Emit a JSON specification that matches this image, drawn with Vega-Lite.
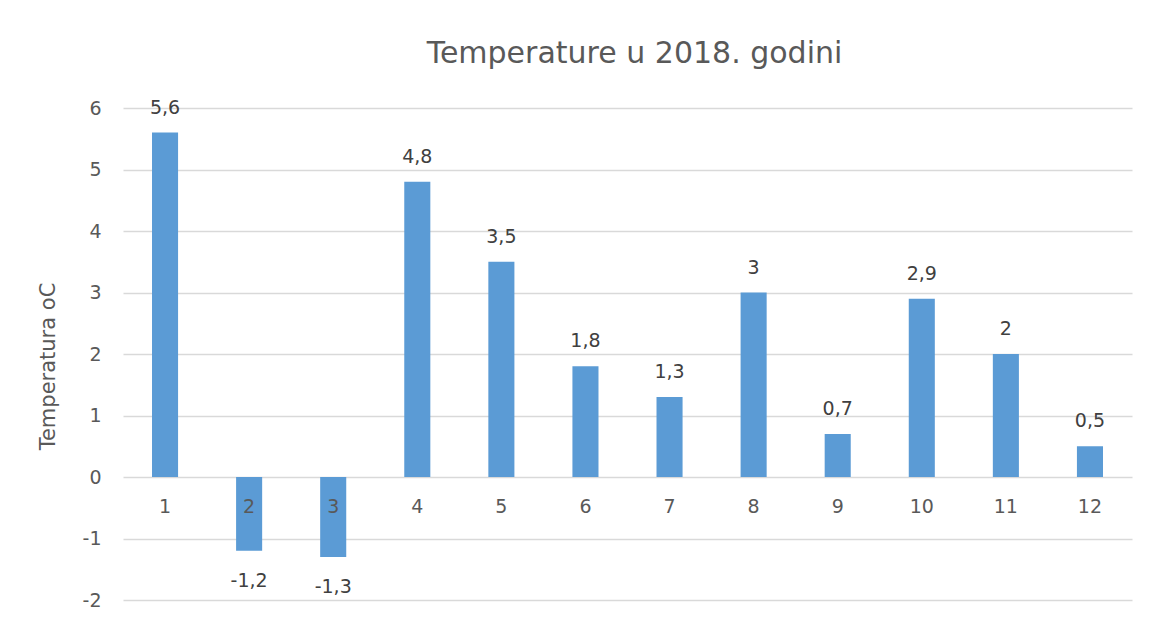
{
  "$schema": "https://vega.github.io/schema/vega-lite/v6.json",
  "width": 1009,
  "height": 492,
  "autosize": {"type": "none"},
  "padding": {"left": 123, "top": 108, "right": 21, "bottom": 26},
  "background": "white",
  "config": {
    "font": "DejaVu Sans",
    "view": {"stroke": null},
    "locale": {"number": {"decimal": ",", "thousands": ".", "grouping": [3], "currency": ["", " €"], "minus": "-"}}
  },
  "title": {
    "text": "Temperature u 2018. godini",
    "fontSize": 30,
    "fontWeight": "normal",
    "color": "#595959",
    "font": "DejaVu Sans",
    "anchor": "middle",
    "baseline": "alphabetic",
    "offset": 6,
    "dx": 7
  },
  "data": {
    "values": [
      {"mjesec": 1, "temp": 5.6},
      {"mjesec": 2, "temp": -1.2},
      {"mjesec": 3, "temp": -1.3},
      {"mjesec": 4, "temp": 4.8},
      {"mjesec": 5, "temp": 3.5},
      {"mjesec": 6, "temp": 1.8},
      {"mjesec": 7, "temp": 1.3},
      {"mjesec": 8, "temp": 3},
      {"mjesec": 9, "temp": 0.7},
      {"mjesec": 10, "temp": 2.9},
      {"mjesec": 11, "temp": 2},
      {"mjesec": 12, "temp": 0.5}
    ]
  },
  "encoding": {
    "x": {
      "field": "mjesec",
      "type": "ordinal",
      "scale": {"paddingInner": 0.69, "paddingOuter": 0.345},
      "axis": null
    }
  },
  "layer": [
    {
      "mark": {"type": "bar", "color": "#5B9BD5"},
      "encoding": {
        "y": {
          "field": "temp",
          "type": "quantitative",
          "scale": {"domain": [-2, 6], "nice": false, "zero": true},
          "axis": {
            "title": "Temperatura oC",
            "values": [-2, -1, 0, 1, 2, 3, 4, 5, 6],
            "format": "d",
            "domain": false,
            "ticks": false,
            "grid": true,
            "gridColor": "#D9D9D9",
            "gridWidth": 1.5,
            "labelFontSize": 19,
            "labelColor": "#595959",
            "labelPadding": 22,
            "titleFontSize": 21,
            "titleFontWeight": "normal",
            "titleColor": "#595959",
            "titleX": -75,
            "titleY": 258,
            "titleBaseline": "middle",
            "titleAngle": -90
          }
        }
      }
    },
    {
      "mark": {"type": "text", "fontSize": 19, "color": "#595959", "baseline": "middle", "dy": 30},
      "encoding": {
        "y": {"datum": 0, "type": "quantitative"},
        "text": {"field": "mjesec", "type": "ordinal"}
      }
    },
    {
      "transform": [{"filter": "datum.temp >= 0"}],
      "mark": {"type": "text", "fontSize": 19, "color": "#404040", "baseline": "middle", "dy": -25},
      "encoding": {
        "y": {"field": "temp", "type": "quantitative"},
        "text": {"field": "temp", "type": "quantitative", "format": ".1~f"}
      }
    },
    {
      "transform": [{"filter": "datum.temp < 0"}],
      "mark": {"type": "text", "fontSize": 19, "color": "#404040", "baseline": "middle", "dy": 30},
      "encoding": {
        "y": {"field": "temp", "type": "quantitative"},
        "text": {"field": "temp", "type": "quantitative", "format": ".1~f"}
      }
    }
  ]
}
